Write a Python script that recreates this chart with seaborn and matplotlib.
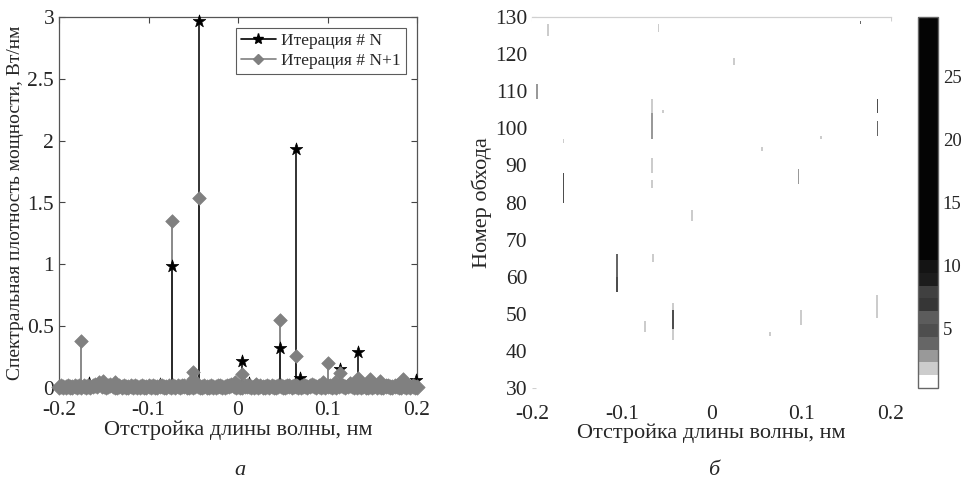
import numpy as np
import matplotlib
matplotlib.use("Agg")
import matplotlib.pyplot as plt
from matplotlib.colors import ListedColormap
from matplotlib.lines import Line2D
import seaborn as sns

sns.set_theme(style="ticks")
plt.rcParams['font.family'] = ['Liberation Serif', 'DejaVu Serif']
plt.rcParams['axes.unicode_minus'] = False

# ---------------- data: left panel (stem spectra) ----------------
n_x = [-0.0436, -0.0741, 0.0652, 0.0473, 0.1345, 0.0045, 0.1136, 0.0693, 0.199,
       -0.167, -0.087, 0.012]
n_y = [2.97, 0.99, 1.93, 0.32, 0.29, 0.22, 0.15, 0.08, 0.065,
       0.04, 0.035, 0.04]

n1_x = [-0.0436, -0.0741, -0.1758, 0.0473, 0.0652, 0.0045, 0.1002, 0.1136, 0.1345,
        -0.0506, -0.0506, 0.1475, 0.1587, 0.1839, -0.1505, -0.137, -0.0033, 0.0949,
        -0.155, 0.108, 0.125, 0.02]
n1_y = [1.54, 1.35, 0.38, 0.55, 0.26, 0.11, 0.20, 0.12, 0.08,
        0.13, 0.07, 0.07, 0.06, 0.07, 0.06, 0.05, 0.05, 0.05,
        0.05, 0.05, 0.04, 0.03]

floor_y = [0.010, 0.014, 0.008, 0.012, 0.016, 0.010, 0.012, 0.018, 0.010, 0.014,
           0.012, 0.016, 0.010, 0.014, 0.012, 0.020, 0.024, 0.016, 0.030, 0.020,
           0.014, 0.012, 0.018, 0.028, 0.016, 0.012, 0.010, 0.014, 0.012, 0.016,
           0.010, 0.012, 0.014, 0.010, 0.016, 0.012, 0.010, 0.014, 0.012, 0.010,
           0.016, 0.012, 0.014, 0.010, 0.012, 0.018, 0.014, 0.012, 0.010, 0.014,
           0.012, 0.016, 0.010, 0.014, 0.012, 0.020, 0.016, 0.012, 0.010, 0.014,
           0.012, 0.016, 0.014, 0.010, 0.012, 0.016, 0.012, 0.010, 0.014, 0.012,
           0.010, 0.014, 0.016, 0.012, 0.010, 0.014, 0.018, 0.024, 0.016, 0.012,
           0.014, 0.010, 0.012, 0.016, 0.020, 0.014, 0.012, 0.010, 0.016, 0.012,
           0.014, 0.012, 0.010, 0.016, 0.012, 0.014, 0.010, 0.012, 0.018, 0.014,
           0.012, 0.010, 0.016, 0.014, 0.012, 0.020, 0.014, 0.010, 0.012, 0.016,
           0.014, 0.012, 0.018, 0.022, 0.016, 0.012, 0.014, 0.010, 0.016, 0.012,
           0.020, 0.014, 0.012, 0.016, 0.010, 0.014, 0.022, 0.016, 0.012, 0.018,
           0.024, 0.014, 0.012, 0.010, 0.014, 0.012, 0.016, 0.010, 0.012, 0.014,
           0.010, 0.016, 0.012, 0.014, 0.010, 0.012, 0.018, 0.014, 0.010, 0.012,
           0.016, 0.014, 0.010, 0.012, 0.014, 0.010, 0.016, 0.012, 0.014, 0.010,
           0.012]
floor_x = np.linspace(-0.2, 0.2, len(floor_y))

x_ticks = [-0.2, -0.1, 0, 0.1, 0.2]
x_ticklabels = ['-0.2', '-0.1', '0', '0.1', '0.2']
y_ticks = [0, 0.5, 1, 1.5, 2, 2.5, 3]
y_ticklabels = ['0', '0.5', '1', '1.5', '2', '2.5', '3']

# ---------------- data: right panel (pass map) ----------------
# streaks: x (nm), pass_from, pass_to, level
streak_x = [-0.183, -0.060, 0.165, 0.0236, -0.1955, -0.0667, -0.0667, -0.0667, -0.0667,
            -0.0555, 0.184, 0.184, 0.121, 0.0548, -0.1658, -0.1658, 0.096, -0.0229,
            -0.1064, -0.1064, -0.0655, -0.0443, -0.0443, -0.075, 0.0994, 0.0644, 0.1833]
streak_lo = [125, 125.5, 128, 117, 108, 104, 97, 88.5, 84,
             104, 98, 104, 97, 94, 96, 80, 85, 75,
             55.5, 60, 64, 43, 45.5, 45, 47, 44, 49]
streak_hi = [128, 128, 129, 119, 112, 108, 104, 92, 86,
             105, 102, 108, 98, 95, 97, 88, 89, 78,
             60, 66, 66, 53, 51, 48, 51, 45, 55]
streak_v = [2, 2, 4, 2, 3, 1.5, 3, 2, 1.5,
            1.5, 4, 5, 1.5, 1.5, 1.5, 5, 3, 1.5,
            5, 4, 1.5, 1.5, 5, 1.5, 2, 1.5, 2]

cbar_ticks = [5, 10, 15, 20, 25]
cmap_levels = [255, 204, 153, 102, 78, 92, 54, 64, 28, 20] + [4] * 19

# ---------------- figure ----------------
fig = plt.figure(figsize=(9.64, 4.86), dpi=100)
txt = '#262626'

# ---- left panel ----
ax1 = fig.add_axes([59 / 964, 98 / 486, 358 / 964, 371 / 486])
gray = '#808080'
ax1.vlines(n1_x, 0, n1_y, color=gray, lw=1.3, zorder=2)
ax1.vlines(n_x, 0, n_y, color='#222222', lw=1.3, zorder=3)
sns.scatterplot(x=n_x, y=n_y, marker='*', color='black', s=90, edgecolor='black',
                linewidth=0.5, ax=ax1, zorder=4, legend=False, clip_on=False)
sns.scatterplot(x=floor_x, y=floor_y, marker='D', color=gray, s=60, edgecolor=gray,
                linewidth=0.6, ax=ax1, zorder=5, legend=False, clip_on=False)
sns.scatterplot(x=n1_x, y=n1_y, marker='D', color=gray, s=48, edgecolor=gray,
                linewidth=0.5, ax=ax1, zorder=6, legend=False, clip_on=False)
ax1.set_xlim(-0.2, 0.2)
ax1.set_ylim(0, 3)
ax1.set_xticks(x_ticks)
ax1.set_xticklabels(x_ticklabels)
ax1.set_yticks(y_ticks)
ax1.set_yticklabels(y_ticklabels)
ax1.tick_params(direction='in', length=4, top=True, right=True, labelsize=15.5,
                colors='#444444', labelcolor=txt, width=0.8)
ax1.tick_params(axis='x', pad=9)
for s in ax1.spines.values():
    s.set_color('#555555')
    s.set_linewidth(0.9)
ax1.set_xlabel('Отстройка длины волны, нм', fontsize=16, color=txt, labelpad=1)
ax1.set_ylabel('Спектральная плотность мощности, Вт/нм', fontsize=14, color=txt, labelpad=2)
handles = [Line2D([0], [0], color='black', lw=1.2, marker='*', markersize=8),
           Line2D([0], [0], color=gray, lw=1.2, marker='D', markersize=5)]
leg = ax1.legend(handles, ['Итерация # N', 'Итерация # N+1'], loc='upper right',
                 fontsize=12.5, frameon=True, fancybox=False, edgecolor='#333333',
                 handlelength=2.0, handletextpad=0.3, borderpad=0.3,
                 labelspacing=0.2, borderaxespad=0,
                 bbox_to_anchor=(0.969, 0.970))
leg.get_frame().set_linewidth(0.8)
for t in leg.get_texts():
    t.set_color(txt)

# ---- right panel ----
ncol = 400
passes = 100
mat = np.zeros((passes, ncol))
for x, lo, hi, v in zip(streak_x, streak_lo, streak_hi, streak_v):
    c = int(round((x + 0.2) / 0.001))
    r0 = int(round(130 - hi))
    r1 = int(round(130 - lo))
    mat[r0:r1, c:c + 2] = v

cmap = ListedColormap([(g / 255, g / 255, g / 255) for g in cmap_levels])
ax2 = fig.add_axes([532 / 964, 98 / 486, 359 / 964, 371 / 486])
cax = fig.add_axes([918 / 964, 98 / 486, 20 / 964, 371 / 486])
sns.heatmap(mat, ax=ax2, cmap=cmap, vmin=0.3, vmax=29.7, cbar_ax=cax,
            xticklabels=False, yticklabels=False, rasterized=True)
ax2.set_xticks([0, 100, 200, 300, 400])
ax2.set_xticklabels(x_ticklabels, rotation=0)
yv = [30, 40, 50, 60, 70, 80, 90, 100, 110, 120, 130]
ax2.set_yticks([130 - v for v in yv])
ax2.set_yticklabels([str(v) for v in yv], rotation=0)
ax2.set_xlim(0, ncol)
ax2.set_ylim(passes, 0)
for name, s in ax2.spines.items():
    s.set_visible(name == 'top')
    s.set_color('#d0d0d0')
    s.set_linewidth(0.9)
ax2.tick_params(direction='in', length=3, top=True, bottom=False, left=True,
                labelsize=15.5, colors='#d0d0d0', labelcolor=txt, width=0.8)
ax2.tick_params(axis='x', pad=12)
ax2.set_xlabel('Отстройка длины волны, нм', fontsize=16, color=txt, labelpad=0)
ax2.set_ylabel('Номер обхода', fontsize=16, color=txt)
ax2.yaxis.set_label_coords(-40 / 359, 0.5)

cax.set_yticks(cbar_ticks)
cax.set_yticklabels([str(t) for t in cbar_ticks])
cax.tick_params(direction='in', length=3, labelsize=13.5, colors='#555555',
                labelcolor=txt, width=0.8)
cb = ax2.collections[0].colorbar
cb.outline.set_edgecolor('#666666')
cb.outline.set_linewidth(1.0)

fig.text(240 / 964, 1 - 470 / 486, 'а', fontsize=16, style='italic', color=txt,
         ha='center', va='center')
fig.text(714 / 964, 1 - 470 / 486, 'б', fontsize=16, style='italic', color=txt,
         ha='center', va='center')

fig.savefig('out.png', dpi=100, facecolor='white')
